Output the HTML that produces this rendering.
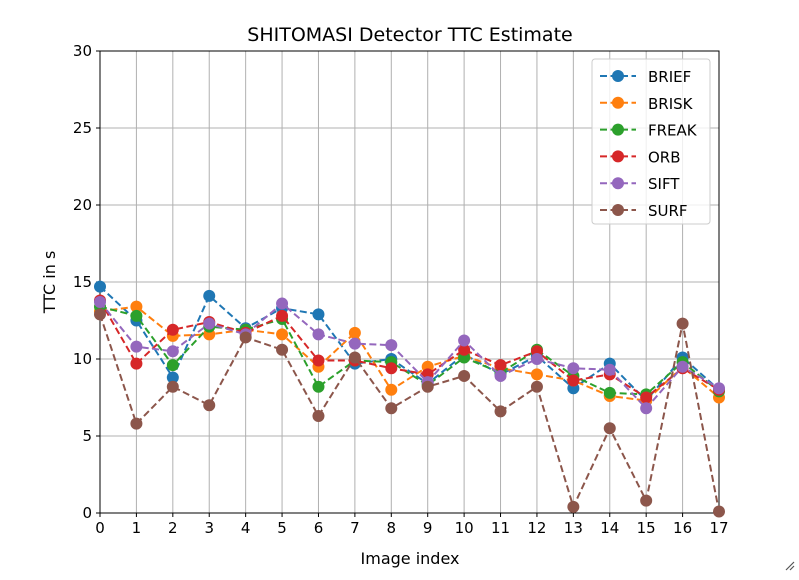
<!DOCTYPE html>
<html><head><meta charset="utf-8"><style>
body{margin:0;background:#fff;font-family:"DejaVu Sans","Liberation Sans",sans-serif;}
svg text{font-family:"DejaVu Sans","Liberation Sans",sans-serif;}
</style></head><body>
<svg id="chart" width="799" height="576" xmlns="http://www.w3.org/2000/svg">
<rect width="799" height="576" fill="#fff"/>
<g id="grid"></g><g id="axes"></g><g id="series"></g><g id="legend"></g>
<text x="410" y="41" text-anchor="middle" font-size="19">SHITOMASI Detector TTC Estimate</text>
<text x="410" y="564" text-anchor="middle" font-size="16">Image index</text>
<text transform="translate(55,282) rotate(-90)" text-anchor="middle" font-size="16">TTC in s</text>
<path d="M786 570 L794 562 M790 570 L794 566" stroke="#555" stroke-width="1.2"/>
</svg>
<script>
const xCats=[0,1,2,3,4,5,6,7,8,9,10,11,12,13,14,15,16,17];
const yTicks=[0,5,10,15,20,25,30];
const seriesNames=["BRIEF","BRISK","FREAK","ORB","SIFT","SURF"];
const seriesColors=["#1f77b4","#ff7f0e","#2ca02c","#d62728","#9467bd","#8c564b"];
const brief=[14.7,12.5,8.8,14.1,12.0,13.3,12.9,9.7,10.0,8.4,10.3,9.0,10.2,8.1,9.7,7.3,10.1,8.0];
const brisk=[13.1,13.4,11.5,11.6,11.9,11.6,9.5,11.7,8.0,9.5,10.2,9.4,9.0,8.6,7.6,7.3,9.5,7.5];
const freak=[13.4,12.8,9.6,12.1,11.9,12.6,8.2,9.9,9.8,8.3,10.1,9.1,10.6,8.9,7.8,7.7,9.8,7.9];
const orb=[13.8,9.7,11.9,12.4,11.7,12.8,9.9,9.9,9.4,9.0,10.6,9.6,10.5,8.6,9.0,7.5,9.4,8.0];
const sift=[13.7,10.8,10.5,12.3,11.6,13.6,11.6,11.0,10.9,8.5,11.2,8.9,10.0,9.4,9.3,6.8,9.5,8.1];
const surf=[12.9,5.8,8.2,7.0,11.4,10.6,6.3,10.1,6.8,8.2,8.9,6.6,8.2,0.4,5.5,0.8,12.3,0.1];
const allSeries=[brief,brisk,freak,orb,sift,surf];
const NS="http://www.w3.org/2000/svg";
const L=100,R=719,T=51,B=513;
const xS=v=>L+(v-0)/(17-0)*(R-L);
const yS=v=>B-(v-0)/30*(B-T);
function mk(t,a,p){const e=document.createElementNS(NS,t);for(const k in a)e.setAttribute(k,a[k]);p.appendChild(e);return e;}
const grid=document.getElementById('grid'),axes=document.getElementById('axes'),ser=document.getElementById('series'),leg=document.getElementById('legend');
xCats.forEach(c=>{const x=xS(c);
const g=mk('line',{x1:x,x2:x,y1:T,y2:B,stroke:'#b0b0b0','stroke-width':1},grid);

mk('line',{x1:x,x2:x,y1:B,y2:B+4,stroke:'#000'},axes);
const t=mk('text',{x:x,y:B+20,'text-anchor':'middle','font-size':15},axes);t.textContent=c;
});
yTicks.forEach(v=>{const y=yS(v);
const g=mk('line',{x1:L,x2:R,y1:y,y2:y,stroke:'#b0b0b0','stroke-width':1},grid);

mk('line',{x1:L-4,x2:L,y1:y,y2:y,stroke:'#000'},axes);
const t=mk('text',{x:L-8,y:y+5,'text-anchor':'end','font-size':15},axes);t.textContent=v;
});
const fr=mk('rect',{x:L,y:T,width:R-L,height:B-T,fill:'none',stroke:'#000','stroke-width':1},axes);

allSeries.forEach((d,i)=>{const c=seriesColors[i];
const pts=d.map((v,j)=>xS(xCats[j])+','+yS(v)).join(' ');
const pl=mk('polyline',{points:pts,fill:'none',stroke:c,'stroke-width':2,'stroke-dasharray':'7,3.5'},ser);

d.forEach((v,j)=>{const p=mk('circle',{cx:xS(xCats[j]),cy:yS(v),r:6,fill:c},ser);
});});
const lb=mk('rect',{x:592,y:59,width:118,height:165,rx:3,fill:'#fff','fill-opacity':0.8,stroke:'#ccc'},leg);

seriesNames.forEach((n,i)=>{const y=76+i*26.8;const c=seriesColors[i];
const g=mk('g',{},leg);
mk('line',{x1:600,x2:636,y1:y,y2:y,stroke:c,'stroke-width':2,'stroke-dasharray':'7,3.5'},g);
mk('circle',{cx:618,cy:y,r:6,fill:c},g);
const t=mk('text',{x:648,y:y+6,'font-size':15},g);t.textContent=n;});
</script>
</body></html>
